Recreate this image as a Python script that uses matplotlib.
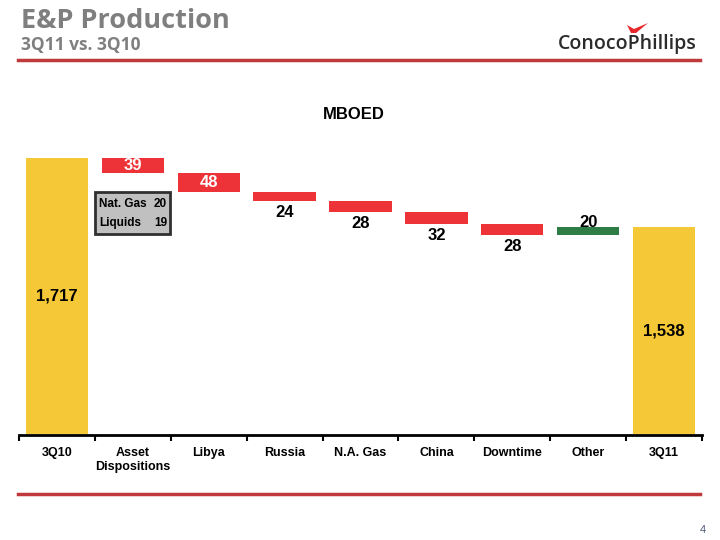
import matplotlib
matplotlib.use("Agg")
import matplotlib.pyplot as plt
from matplotlib.patches import Rectangle, Polygon
from matplotlib.lines import Line2D

categories = ["3Q10", "Asset\nDispositions", "Libya", "Russia", "N.A. Gas",
              "China", "Downtime", "Other", "3Q11"]
start_value = 1717
end_value = 1538
changes = [-39, -48, -24, -28, -32, -28, 20]
box_labels = ["Nat. Gas", "Liquids"]
box_values = [20, 19]

YELLOW = "#F5C837"
RED = "#EE3338"
GREEN = "#2E7D47"
TITLE_GRAY = "#7F7F7F"
LINE_RED = "#C0393B"

W, H = 720, 540
fig = plt.figure(figsize=(7.2, 5.4), dpi=100)
fig.patch.set_facecolor("white")

def fx(px):
    return px / W

def fy(py):
    return 1 - py / H

ax_left, ax_right, ax_bottom, ax_top = 19, 702, 435, 140
ax = fig.add_axes([fx(ax_left), fy(ax_bottom), fx(ax_right - ax_left), (ax_bottom - ax_top) / H])

LBL = ["Liberation Sans Narrow", "Liberation Sans", "DejaVu Sans"]
ARIAL = ["Liberation Sans", "DejaVu Sans"]

n = len(categories)
bw = 0.82
ax.bar(0, start_value - 1000, bottom=1000, width=bw, color=YELLOW, zorder=2)
level = start_value
bars = []
for i, d in enumerate(changes, start=1):
    bottom = min(level, level + d)
    col = GREEN if d > 0 else RED
    ax.bar(i, abs(d), bottom=bottom, width=bw, color=col, zorder=2)
    bars.append((i, level, level + d, d))
    level += d
ax.bar(n - 1, end_value - 1000, bottom=1000, width=bw, color=YELLOW, zorder=2)

ax.text(0, (start_value + 1000) / 2, f"{start_value:,}", ha="center", va="center",
        fontsize=12, fontweight="bold", family=ARIAL, color="black")
ax.text(n - 1, (end_value + 1000) / 2, f"{end_value:,}", ha="center", va="center",
        fontsize=12, fontweight="bold", family=ARIAL, color="black")

for k, (i, a, b, d) in enumerate(bars):
    txt = f"{abs(d)}"
    if k < 2:
        ax.text(i, (a + b) / 2, txt, ha="center", va="center", fontsize=12,
                fontweight="bold", family=ARIAL, color="white")
    elif d > 0:
        ax.annotate(txt, (i, max(a, b)), xytext=(0, -2), textcoords="offset points",
                    ha="center", va="bottom", fontsize=12, fontweight="bold",
                    family=ARIAL, color="black")
    else:
        ax.annotate(txt, (i, min(a, b)), xytext=(0, -3), textcoords="offset points",
                    ha="center", va="top", fontsize=12, fontweight="bold",
                    family=ARIAL, color="black")

ax.set_xlim(-0.5, n - 0.5)
px_per_unit = (435 - 227) / (end_value - 998)
ax.set_ylim(998, 998 + (ax_bottom - ax_top) / px_per_unit)

for s in ["top", "right", "left"]:
    ax.spines[s].set_visible(False)
ax.spines["bottom"].set_linewidth(2)
ax.set_yticks([])
ax.set_xticks([i - 0.5 for i in range(n + 1)])
ax.set_xticklabels([])
ax.tick_params(axis="x", length=4, width=1.5, direction="out", color="black")
for i, c in enumerate(categories):
    ax.text(i, 998 - 12 / px_per_unit, c, ha="center", va="top",
            fontsize=9, fontweight="bold", family=LBL, linespacing=1.25)

ax.set_title("MBOED", fontsize=12, fontweight="bold", family=ARIAL, pad=15)
ax.title.set_position((0.49, 1))

fig.patches.append(Rectangle((fx(95), fy(234)), fx(170 - 95), (234 - 192) / H,
                             transform=fig.transFigure, facecolor="#C0C0C0",
                             edgecolor="#303030", linewidth=2, zorder=5))
rows_y = [204, 223]
for lab, val, yy in zip(box_labels, box_values, rows_y):
    fig.text(fx(99), fy(yy), lab, ha="left", va="center", fontsize=8.5,
             fontweight="bold", family=ARIAL, zorder=6)
    fig.text(fx(167), fy(yy), f"{val}", ha="right", va="center", fontsize=8.5,
             fontweight="bold", family=ARIAL, zorder=6)

TF = ["Open Sans", "DejaVu Sans"]
fig.text(fx(21), fy(21), "E&P Production", ha="left", va="center", fontsize=19.5,
         fontweight="bold", family=TF, color=TITLE_GRAY)
fig.text(fx(21), fy(45), "3Q11 vs. 3Q10", ha="left", va="center", fontsize=12.5,
         fontweight="bold", family=TF, color=TITLE_GRAY)
fig.add_artist(Line2D([fx(18), fx(700)], [fy(60), fy(60)], color=LINE_RED, lw=2.5))
fig.add_artist(Line2D([fx(18), fx(700)], [fy(494), fy(494)], color=LINE_RED, lw=2.5))

fig.text(fx(697), fy(44), "ConocoPhillips", ha="right", va="center", fontsize=14,
         fontweight="semibold", family=["Open Sans", "DejaVu Sans"], color="#2B2B2B")
fig.patches.append(Polygon([(fx(627), fy(25)), (fx(634), fy(29)), (fx(648), fy(23)),
                            (fx(636), fy(33)), (fx(631), fy(33))],
                           closed=True, transform=fig.transFigure,
                           facecolor="#E8262B", edgecolor="none"))

fig.text(fx(706), fy(530), "4", ha="right", va="center", fontsize=8,
         color="#505A78", family=ARIAL)

fig.savefig("out.png", dpi=100, facecolor="white")
